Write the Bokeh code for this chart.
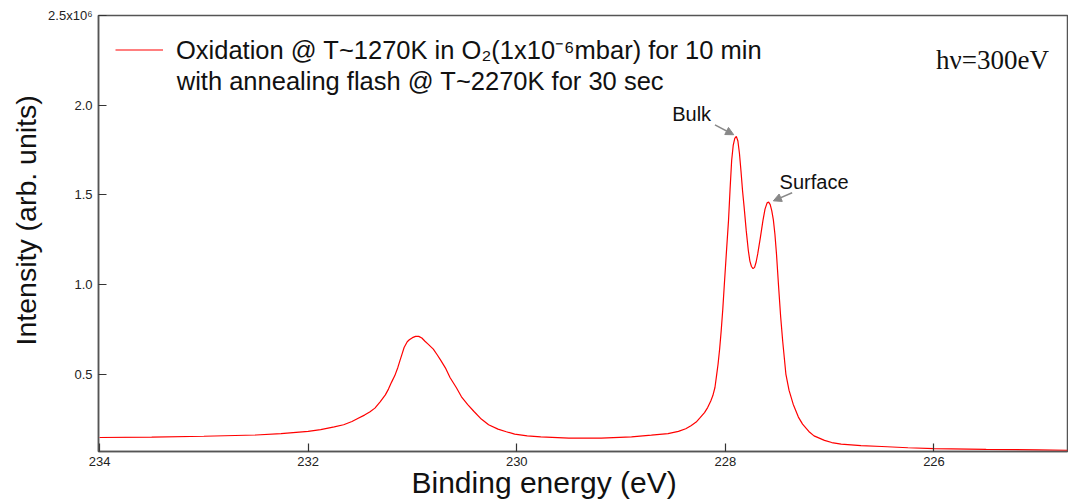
import math
from bokeh.plotting import figure
from bokeh.models import (Range1d, FixedTicker, PrintfTickFormatter, Label, Arrow,
                          NormalHead, Legend, LegendItem, ColumnDataSource, Title)
from bokeh.embed import file_html
from bokeh.resources import INLINE

# ---- data ----
energy = [234.00, 233.50, 233.00, 232.50, 232.26, 232.00, 231.88, 231.75, 231.66, 231.58,
          231.52, 231.46, 231.41, 231.36, 231.31, 231.26, 231.23, 231.20, 231.17, 231.14,
          231.12, 231.10, 231.08, 231.05, 231.03, 231.00, 230.97, 230.94, 230.91, 230.88,
          230.85, 230.80, 230.76, 230.73, 230.68, 230.64, 230.58, 230.53, 230.47, 230.41,
          230.34, 230.27, 230.18, 230.10, 230.02, 229.90, 229.77, 229.50, 229.19, 228.90,
          228.71, 228.55, 228.45, 228.38, 228.33, 228.28, 228.24, 228.20, 228.17, 228.14,
          228.12, 228.10, 228.085, 228.07, 228.055, 228.04, 228.025, 228.01, 227.99, 227.97,
          227.955, 227.94, 227.925, 227.91, 227.895, 227.88, 227.865, 227.85, 227.835, 227.82,
          227.80, 227.78, 227.765, 227.75, 227.735, 227.72, 227.705, 227.69, 227.665, 227.64,
          227.62, 227.60, 227.585, 227.57, 227.555, 227.54, 227.525, 227.51, 227.49, 227.47,
          227.45, 227.42, 227.39, 227.35, 227.30, 227.26, 227.20, 227.15, 227.05, 226.98,
          226.89, 226.70, 226.50, 226.25, 226.00, 225.50, 225.00, 224.72]
intensity = [0.146, 0.148, 0.153, 0.160, 0.168, 0.180, 0.190, 0.205, 0.217, 0.235,
             0.253, 0.271, 0.288, 0.310, 0.345, 0.384, 0.416, 0.455, 0.490, 0.537,
             0.575, 0.611, 0.648, 0.680, 0.691, 0.703, 0.710, 0.710, 0.701, 0.683,
             0.667, 0.639, 0.605, 0.578, 0.530, 0.481, 0.425, 0.373, 0.330, 0.291,
             0.249, 0.217, 0.193, 0.178, 0.165, 0.155, 0.150, 0.143, 0.143, 0.150,
             0.159, 0.168, 0.180, 0.195, 0.212, 0.232, 0.258, 0.285, 0.313, 0.350,
             0.380, 0.425, 0.490, 0.556, 0.640, 0.742, 0.860, 1.000, 1.180, 1.356,
             1.530, 1.690, 1.775, 1.815, 1.826, 1.800, 1.730, 1.630, 1.520, 1.430,
             1.300, 1.189, 1.130, 1.100, 1.088, 1.095, 1.125, 1.170, 1.260, 1.356,
             1.420, 1.455, 1.459, 1.445, 1.410, 1.360, 1.280, 1.170, 0.990, 0.820,
             0.680, 0.500, 0.410, 0.332, 0.260, 0.221, 0.180, 0.155, 0.130, 0.118,
             0.109, 0.101, 0.096, 0.089, 0.084, 0.080, 0.077, 0.075]  # x10^6 counts

x_ticks = [234, 232, 230, 228, 226]
y_ticks = [0.5, 1.0, 1.5, 2.0, 2.5]
y_tick_labels = {2.5: "2.5x10\u2076"}

legend_line1 = "Oxidation @ T~1270K in O\u2082(1x10\u207b\u2076mbar) for 10 min"
legend_line2 = "with annealing flash @ T~2270K for 30 sec"
x_label = "Binding energy (eV)"
y_label = "Intensity (arb. units)"
hv_label = "h\u03bd=300eV"
peak_names = ["Bulk", "Surface"]

FONT = "Liberation Sans"
AX = "#555555"

p = figure(width=1068, height=500, output_backend="svg", toolbar_location=None,
           x_range=Range1d(234.01, 224.72), y_range=Range1d(0.068, 2.5),
           min_border_left=98, min_border_right=1, min_border_top=15, min_border_bottom=49)
p.xgrid.visible = False
p.ygrid.visible = False
p.outline_line_color = AX
p.outline_line_width = 1.5
p.background_fill_color = "white"

src = ColumnDataSource(dict(e=energy, i=intensity))
r = p.line("e", "i", source=src, line_color="#ff0000", line_width=1.2)

for ax in (p.xaxis[0], p.yaxis[0]):
    ax.axis_line_color = AX
    ax.axis_line_width = 1.5
    ax.major_tick_line_color = "#333333"
    ax.major_tick_line_width = 1.2
    ax.major_tick_in = 8
    ax.major_tick_out = 0
    ax.minor_tick_line_color = None
    ax.major_label_text_font = FONT
    ax.major_label_text_font_size = "13px"
    ax.major_label_text_color = "#222222"

p.xaxis.ticker = FixedTicker(ticks=x_ticks)
p.xaxis.major_label_standoff = 5
p.yaxis.ticker = FixedTicker(ticks=y_ticks)
p.yaxis.formatter = PrintfTickFormatter(format="%.1f")
p.yaxis.major_label_overrides = y_tick_labels
p.yaxis.major_label_standoff = 6

p.add_layout(Title(text=y_label, align="left", offset=106, standoff=7,
                   text_font=FONT, text_font_size="28.5px", text_font_style="normal",
                   text_color="#111111"), "left")
p.add_layout(Title(text=x_label, align="left", offset=313, standoff=-9,
                   text_font=FONT, text_font_size="30px", text_font_style="normal",
                   text_color="#111111"), "below")

# legend
legend = Legend(items=[LegendItem(label=legend_line1, renderers=[r])],
                location="top_left", margin=17, padding=7, glyph_width=48,
                glyph_height=33, label_height=33, label_standoff=13,
                label_text_font=FONT, label_text_font_size="25.5px",
                label_text_color="#111111", border_line_color=None,
                background_fill_alpha=0)
p.add_layout(legend)
p.add_layout(Label(x=233.26, y=2.137, text=legend_line2, text_align="left",
                   text_baseline="middle", text_font=FONT, text_font_size="25.5px",
                   text_color="#111111"))

# photon energy
p.add_layout(Label(x=225.98, y=2.249, text=hv_label, text_align="left",
                   text_baseline="middle", text_font="Liberation Serif",
                   text_font_size="27px", text_color="#111111"))

# peak annotations
p.add_layout(Label(x=228.51, y=1.953, text=peak_names[0], text_align="left",
                   text_baseline="middle", text_font=FONT, text_font_size="20px",
                   text_color="#111111"))
p.add_layout(Label(x=227.48, y=1.574, text=peak_names[1], text_align="left",
                   text_baseline="middle", text_font=FONT, text_font_size="20px",
                   text_color="#111111"))
for xs, ys, xe, ye in [(228.10, 1.890, 227.92, 1.835), (227.36, 1.511, 227.54, 1.466)]:
    p.add_layout(Arrow(end=NormalHead(size=8, fill_color="#888888", line_color="#888888"),
                       x_start=xs, y_start=ys, x_end=xe, y_end=ye,
                       line_color="#888888", line_width=1.5))

open("out.html", "w").write(file_html(p, INLINE))
